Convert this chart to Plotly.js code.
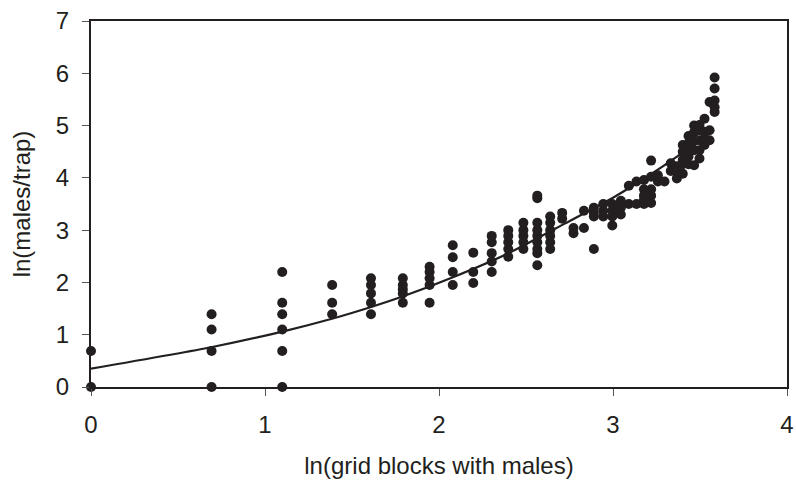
<!DOCTYPE html>
<html>
<head>
<meta charset="utf-8">
<script src="https://cdn.plot.ly/plotly-3.0.1.min.js"></script>
<style>html,body{margin:0;padding:0;background:#fff;}#chart{width:796px;height:481px;}</style>
</head>
<body>
<div id="chart"></div>
<script>
// ln(grid blocks with males) for each point
const pointX = [
  0, 0,
  0.693, 0.693, 0.693, 0.693,
  1.099, 1.099, 1.099, 1.099, 1.099, 1.099,
  1.386, 1.386, 1.386,
  1.609, 1.609, 1.609, 1.609, 1.609,
  1.792, 1.792, 1.792, 1.792, 1.792,
  1.946, 1.946, 1.946, 1.946, 1.946,
  2.079, 2.079, 2.079, 2.079,
  2.197, 2.197, 2.197,
  2.303, 2.303, 2.303, 2.303, 2.303,
  2.398, 2.398, 2.398, 2.398, 2.398,
  2.485, 2.485, 2.485, 2.485, 2.485,
  2.565, 2.565, 2.565, 2.565, 2.565, 2.565, 2.565, 2.565, 2.565,
  2.639, 2.639, 2.639, 2.639, 2.639, 2.639,
  2.708, 2.708,
  2.773, 2.773,
  2.833, 2.833,
  2.890, 2.890, 2.890, 2.890,
  2.944, 2.944, 2.944,
  2.996, 2.996, 2.996, 2.996,
  3.045, 3.045, 3.045,
  3.091, 3.091,
  3.135, 3.135,
  3.178, 3.178, 3.178, 3.178, 3.178,
  3.219, 3.219, 3.219, 3.219, 3.219,
  3.258, 3.258,
  3.296,
  3.332, 3.332,
  3.367, 3.367, 3.367,
  3.401, 3.401, 3.401, 3.401, 3.401,
  3.434, 3.434, 3.434, 3.434, 3.434,
  3.466, 3.466, 3.466, 3.466, 3.466,
  3.497, 3.497, 3.497, 3.497, 3.497,
  3.526, 3.526, 3.526, 3.526,
  3.555, 3.555, 3.555,
  3.584, 3.584, 3.584, 3.584, 3.584
];
// ln(males/trap) for each point
const pointY = [
  0, 0.69,
  0, 0.69, 1.10, 1.39,
  0, 0.69, 1.10, 1.39, 1.61, 2.20,
  1.39, 1.61, 1.95,
  1.39, 1.61, 1.79, 1.95, 2.08,
  1.61, 1.79, 1.87, 1.95, 2.08,
  1.61, 1.95, 2.08, 2.20, 2.30,
  1.95, 2.20, 2.48, 2.71,
  1.99, 2.20, 2.57,
  2.20, 2.40, 2.56, 2.77, 2.89,
  2.49, 2.64, 2.77, 2.89, 3.00,
  2.64, 2.77, 2.89, 3.00, 3.14,
  2.33, 2.56, 2.64, 2.77, 2.89, 3.00, 3.14, 3.61, 3.66,
  2.64, 2.77, 2.89, 3.00, 3.14, 3.26,
  3.22, 3.33,
  2.94, 3.04,
  3.04, 3.37,
  2.64, 3.26, 3.33, 3.43,
  3.26, 3.37, 3.50,
  3.09, 3.26, 3.37, 3.50,
  3.30, 3.43, 3.56,
  3.50, 3.85,
  3.50, 3.93,
  3.50, 3.58, 3.66, 3.78, 3.96,
  3.52, 3.66, 3.78, 4.02, 4.33,
  3.93, 4.05,
  3.93,
  4.13, 4.28,
  3.99, 4.13, 4.22,
  4.08, 4.26, 4.34, 4.50, 4.63,
  4.26, 4.41, 4.52, 4.66, 4.80,
  4.24, 4.53, 4.70, 4.87, 5.00,
  4.37, 4.53, 4.72, 4.91, 5.01,
  4.63, 4.75, 4.88, 5.13,
  4.72, 4.91, 5.45,
  5.26, 5.35, 5.48, 5.71, 5.92
];
// fitted curve
const curveX = [0, 0.69, 1.1, 1.39, 1.61, 1.79, 2.08, 2.4, 2.72, 3.0, 3.2, 3.37, 3.58];
const curveY = [0.35, 0.76, 1.06, 1.31, 1.53, 1.73, 2.1, 2.56, 3.12, 3.62, 4.03, 4.41, 4.92];

const xTicks = [0, 1, 2, 3, 4];
const yTicks = [0, 1, 2, 3, 4, 5, 6, 7];

const ink = '#231f20';
const fontFam = 'Liberation Sans, Arial, sans-serif';

const traces = [
  {
    x: curveX, y: curveY, type: 'scatter', mode: 'lines',
    line: {color: ink, width: 2.2, shape: 'spline', smoothing: 0.6},
    cliponaxis: false, hoverinfo: 'skip', showlegend: false
  },
  {
    x: pointX, y: pointY, type: 'scatter', mode: 'markers',
    marker: {color: ink, size: 10, line: {width: 0}},
    cliponaxis: false, showlegend: false
  }
];

const layout = {
  width: 796, height: 481,
  margin: {l: 91, r: 9, t: 21, b: 94},
  paper_bgcolor: '#ffffff', plot_bgcolor: '#ffffff',
  font: {family: fontFam, size: 24, color: ink},
  showlegend: false,
  xaxis: {
    range: [0, 4], tickvals: xTicks, ticktext: xTicks.map(String),
    ticks: 'outside', ticklen: 7, tickwidth: 1, tickcolor: '#555',
    showline: true, linewidth: 2, linecolor: ink, mirror: true,
    showgrid: false, zeroline: false, ticklabelstandoff: 8,
    tickfont: {family: fontFam, size: 24, color: ink},
    title: {text: 'ln(grid blocks with males)', font: {family: fontFam, size: 24, color: ink}, standoff: 20}
  },
  yaxis: {
    range: [0, 7], tickvals: yTicks, ticktext: yTicks.map(String),
    ticks: 'outside', ticklen: 7, tickwidth: 1, tickcolor: '#555',
    showline: true, linewidth: 2, linecolor: ink, mirror: true,
    showgrid: false, zeroline: false, ticklabelstandoff: 8,
    tickfont: {family: fontFam, size: 24, color: ink},
    title: {text: 'ln(males/trap)', font: {family: fontFam, size: 24, color: ink}, standoff: 18}
  }
};

Plotly.newPlot('chart', traces, layout, {displayModeBar: false, staticPlot: true});
</script>
</body>
</html>
